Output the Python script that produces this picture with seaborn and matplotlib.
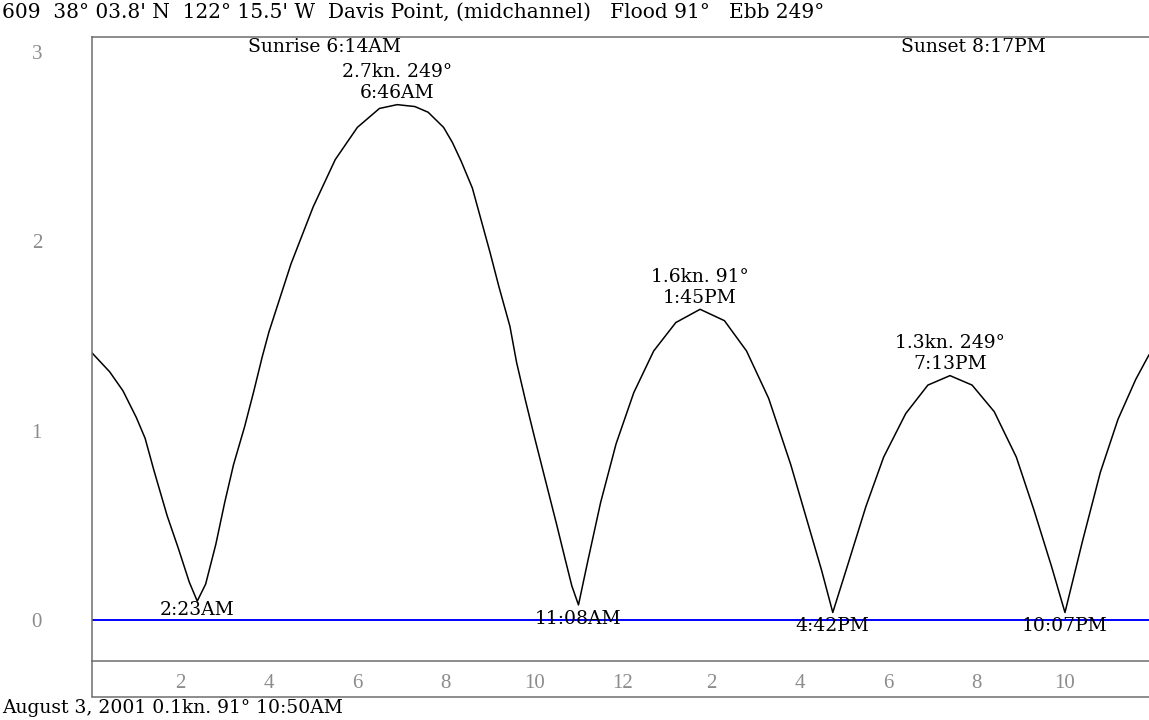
import pandas as pd
import matplotlib.pyplot as plt
import seaborn as sns
from matplotlib.lines import Line2D
from matplotlib.ticker import MultipleLocator

# tidal current speed (knots) over the day
hours = [0.0, 0.4, 0.7, 1.0, 1.2, 1.4, 1.7, 1.95, 2.2, 2.38, 2.57, 2.8, 3.0, 3.2,
         3.45, 3.65, 3.85, 4.0, 4.5, 5.0, 5.5, 6.0, 6.5, 6.9, 7.3, 7.6, 7.95, 8.15,
         8.35, 8.6, 8.8, 9.0, 9.2, 9.45, 9.6, 9.8, 10.0, 10.25, 10.5, 10.7, 10.85,
         11.0, 11.2, 11.5, 11.85, 12.25, 12.7, 13.2, 13.75, 14.3, 14.8, 15.3, 15.8,
         16.2, 16.5, 16.75, 17.1, 17.5, 17.9, 18.4, 18.9, 19.4, 19.9, 20.4, 20.9,
         21.3, 21.7, 22.0, 22.4, 22.8, 23.2, 23.6, 23.9]
speed = [1.41, 1.31, 1.21, 1.07, 0.96, 0.79, 0.55, 0.38, 0.20, 0.10, 0.19, 0.40,
         0.62, 0.82, 1.02, 1.20, 1.39, 1.52, 1.88, 2.18, 2.43, 2.60, 2.70, 2.72,
         2.71, 2.68, 2.60, 2.52, 2.42, 2.28, 2.11, 1.94, 1.76, 1.55, 1.36, 1.16,
         0.97, 0.74, 0.51, 0.32, 0.18, 0.08, 0.30, 0.62, 0.93, 1.20, 1.42, 1.57,
         1.64, 1.58, 1.42, 1.17, 0.82, 0.50, 0.26, 0.04, 0.30, 0.60, 0.86, 1.09,
         1.24, 1.29, 1.24, 1.10, 0.86, 0.58, 0.28, 0.04, 0.42, 0.78, 1.06, 1.27, 1.40]

# max current events
peak_hours = [6.9, 13.75, 19.4]
peak_speed = [2.72, 1.64, 1.29]
peak_text = ["2.7kn. 249°", "1.6kn. 91°", "1.3kn. 249°"]
peak_time = ["6:46AM", "1:45PM", "7:13PM"]

# slack water events
slack_hours = [2.38, 11.0, 16.75, 22.0]
slack_time = ["2:23AM", "11:08AM", "4:42PM", "10:07PM"]

xtick_pos = [2, 4, 6, 8, 10, 12, 14, 16, 18, 20, 22]
xtick_labels = ["2", "4", "6", "8", "10", "12", "2", "4", "6", "8", "10"]

title = "609  38° 03.8' N  122° 15.5' W  Davis Point, (midchannel)   Flood 91°   Ebb 249°"
footer = "August 3, 2001 0.1kn. 91° 10:50AM"

sns.set_theme(style="white")
plt.rcParams["font.family"] = ["DejaVu Serif"]
plt.rcParams["text.color"] = "black"

W, H = 1149, 720
fig = plt.figure(figsize=(W / 100, H / 100), dpi=100)
ax = fig.add_axes([92 / W, 59 / H, 1057 / W, 624 / H])

df = pd.DataFrame({"hour": hours, "speed": speed})
sns.lineplot(data=df, x="hour", y="speed", ax=ax, color="black", lw=1.1)
ax.axhline(0, color="#0000ff", lw=1.4, zorder=1)

ax.set_xlim(0, 23.9)
ax.set_ylim(-0.216, 3.077)
ax.set_xlabel("")
ax.set_ylabel("")

grey = "#6e6e6e"
for side in ["top", "left", "bottom"]:
    ax.spines[side].set_color(grey)
    ax.spines[side].set_linewidth(1.1)
ax.spines["right"].set_visible(False)

# y axis: long ticks with 0.1 minor ticks
ax.set_yticks([0, 1, 2, 3])
ax.yaxis.set_minor_locator(MultipleLocator(0.1))
ax.tick_params(axis="y", which="major", direction="out", length=34, width=1.1,
               color=grey, pad=2, labelsize=15, labelcolor="#8c8c8c")
ax.tick_params(axis="y", which="minor", direction="out", length=24, width=1.1,
               color=grey)

# x axis: hours, even labelled
ax.set_xticks(xtick_pos)
ax.set_xticklabels(xtick_labels)
ax.xaxis.set_minor_locator(MultipleLocator(1))
ax.tick_params(axis="x", which="major", direction="out", length=7, width=1.1,
               color=grey, pad=2, labelsize=15, labelcolor="#8c8c8c")
ax.tick_params(axis="x", which="minor", direction="out", length=3.5, width=1.1,
               color=grey)
for lab in ax.get_xticklabels() + ax.get_yticklabels():
    lab.set_family("Liberation Serif")

# box under the x axis
fig.add_artist(Line2D([92 / W, 1], [23 / H, 23 / H], color=grey, lw=1.1))
fig.add_artist(Line2D([92 / W, 92 / W], [23 / H, 59 / H], color=grey, lw=1.1))

# annotations
fs = 13.5
for x, y, t1, t2 in zip(peak_hours, peak_speed, peak_text, peak_time):
    ax.annotate(t2, (x, y), xytext=(0, 2), textcoords="offset points",
                ha="center", va="bottom", fontsize=fs, color="black")
    ax.annotate(t1, (x, y), xytext=(0, 17), textcoords="offset points",
                ha="center", va="bottom", fontsize=fs, color="black")

slack_dy = [7, 1, -4, -4]
for x, t, dy in zip(slack_hours, slack_time, slack_dy):
    ax.annotate(t, (x, 0), xytext=(0, dy), textcoords="offset points",
                ha="center", va="center", fontsize=fs, color="black")

fig.text(2 / W, 1 - 12 / H, title, ha="left", va="center", fontsize=14.5)
fig.text(325 / W, 1 - 47 / H, "Sunrise 6:14AM", ha="center", va="center", fontsize=fs)
fig.text(973 / W, 1 - 47 / H, "Sunset 8:17PM", ha="center", va="center", fontsize=fs)
fig.text(2 / W, 1 - 708 / H, footer, ha="left", va="center", fontsize=fs)

fig.savefig("out.png", dpi=100)
